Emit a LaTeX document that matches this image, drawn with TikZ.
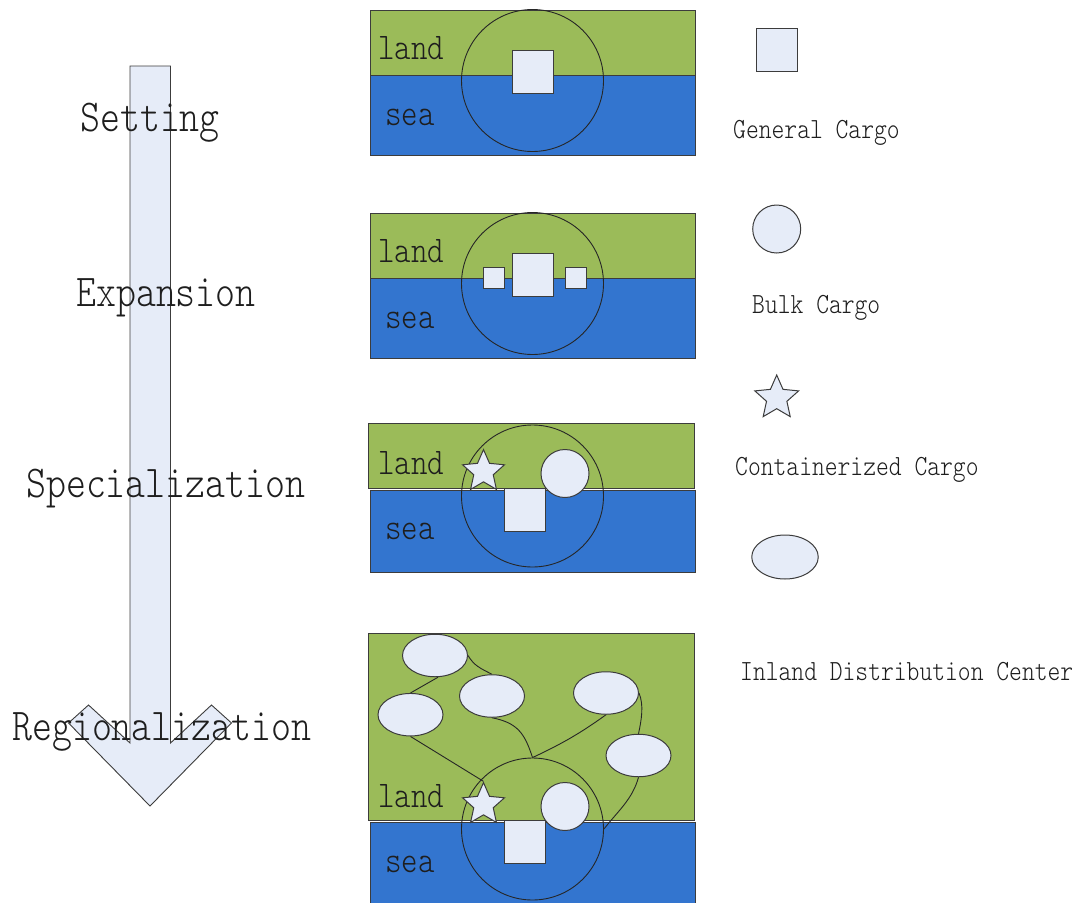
\documentclass[tikz,border=0pt]{standalone}
\usepackage{graphicx}
\usetikzlibrary{shapes.geometric}
\definecolor{landc}{HTML}{9BBB59}
\definecolor{seac}{HTML}{3375CF}
\definecolor{cargo}{HTML}{E6ECF8}
\definecolor{edgec}{HTML}{3C3C3C}
\definecolor{inkc}{HTML}{1E1E1E}
\newcommand{\tallt}[1]{\scalebox{1}[1.2]{#1}}
\pgfdeclarelayer{bglayer}
\pgfdeclarelayer{midlayer}
\pgfsetlayers{bglayer,midlayer,main}
\begin{document}
\begin{tikzpicture}[x=1pt,y=-1pt,
  landbox/.style={draw=edgec, line width=1pt, fill=landc},
  seabox/.style={draw=edgec, line width=1pt, fill=seac},
  portcircle/.style={circle, draw=black!85, line width=0.9pt, minimum size=142pt, inner sep=0pt},
  item/.style={draw=edgec, fill=cargo, line width=1pt, inner sep=0pt},
  gsq/.style={item, rectangle, minimum width=41pt, minimum height=43pt},
  ssq/.style={item, rectangle, minimum size=21pt},
  bulk/.style={item, circle, minimum size=48pt},
  cstar/.style={item, star, star points=5, star point ratio=2.15, minimum size=44pt},
  idc/.style={item, ellipse, minimum width=65pt, minimum height=42.5pt},
  link/.style={draw=black!85, line width=0.9pt},
  arrowshape/.style={draw=edgec, line width=0.9pt, fill=cargo},
  stage/.style={anchor=base west, inner sep=0pt, text=inkc, font=\ttfamily\fontseries{l}\fontsize{38}{40}\selectfont},
  area/.style={anchor=base west, inner sep=0pt, text=inkc, font=\ttfamily\fontseries{l}\fontsize{31.4}{33}\selectfont},
  legend/.style={anchor=base west, inner sep=0pt, text=inkc, font=\ttfamily\fontseries{l}\fontsize{24.4}{26}\selectfont}
]
\useasboundingbox (0,0) rectangle (1084,902);

% ---------- panels ----------
\begin{pgfonlayer}{bglayer}
\fill[white] (0,0) rectangle (1084,902);
\draw[landbox] (370,10) rectangle (695,75);
\draw[seabox] (370,75) rectangle (695,155.5);
\draw[landbox] (370,213) rectangle (695,278);
\draw[seabox] (370,278) rectangle (695,358.5);
\draw[landbox] (368,423) rectangle (694,488.3);
\draw[seabox] (370,490) rectangle (695,572);
\draw[landbox] (368,633) rectangle (694,820);
\draw[seabox] (370,822) rectangle (695,906);
% big arrow
\draw[arrowshape] (130,66) -- (130,743) -- (88.5,705) -- (68.5,723) -- (150,806)
  -- (231.5,723) -- (211.5,705) -- (170.5,743) -- (170.5,66) -- cycle;
\end{pgfonlayer}

% ---------- port circles ----------
\begin{pgfonlayer}{midlayer}
\node[portcircle] (c1) at (532.5,80.5) {};
\node[portcircle] (c2) at (532.5,283.5) {};
\node[portcircle] (c3) at (532.5,496) {};
\node[portcircle] (c4) at (532.5,829) {};
\end{pgfonlayer}

% ---------- stage labels ----------
\node[stage] (tset) at (80,131) {\tallt{Setting}};
\node[stage] (texp) at (76,306) {\tallt{Expansion}};
\node[stage] (tspe) at (26,497) {\tallt{Specialization}};
\node[stage] (treg) at (12,740) {\tallt{Regionalization}};

% ---------- land / sea labels ----------
\node[area] (land1) at (378,59.5) {\tallt{land}};
\node[area] (sea1) at (385,125.5) {\tallt{sea}};
\node[area] (land2) at (378,262.5) {\tallt{land}};
\node[area] (sea2) at (385,328.5) {\tallt{sea}};
\node[area] (land3) at (378,474) {\tallt{land}};
\node[area] (sea3) at (385,539.5) {\tallt{sea}};
\node[area] (land4) at (378,807) {\tallt{land}};
\node[area] (sea4) at (385,872) {\tallt{sea}};

% ---------- panel 1 ----------
\node[gsq] (g1) at (532.5,71.5) {};
% ---------- panel 2 ----------
\node[gsq] (g2) at (532.5,274.5) {};
\node[ssq] (s2a) at (494,277.5) {};
\node[ssq] (s2b) at (575.5,277.5) {};
% ---------- panel 3 ----------
\node[gsq] (g3) at (524.5,510) {};
\node[bulk] (b3) at (565,473.5) {};
\node[cstar] (k3) at (483.5,471.6) {};
% ---------- panel 4 ----------
\node[idc] (e1) at (435,655.5) {};
\node[idc] (e2) at (492,696) {};
\node[idc] (e3) at (410.5,714.7) {};
\node[idc] (e4) at (606,693) {};
\node[idc] (e5) at (638.5,755.5) {};
\node[gsq] (g4) at (524.5,842) {};
\node[bulk] (b4) at (565,806.5) {};
\node[cstar] (k4) at (483.5,804.6) {};

\begin{pgfonlayer}{midlayer}
\draw[link] (e1.east) .. controls +(6,10) and +(-12,-6) .. (e2.north);
\draw[link] ([xshift=3pt]e1.south) -- (e3.north);
\draw[link] (e3.south) -- (k4.north);
\draw[link] (e2.south) .. controls +(25,5) and +(-8,-25) .. (c4.north);
\draw[link] (e4.south) .. controls +(-25,18) and +(30,-14) .. (c4.north);
\draw[link] (e4.east) .. controls +(5,12) and +(3,-14) .. (e5.north);
\draw[link] (e5.south) .. controls +(-6,22) and +(14,-18) .. (c4.east);
\end{pgfonlayer}

% ---------- legend ----------
\node[gsq] (lg) at (776.5,50) {};
\node[legend] (tlg) at (733,138) {\tallt{General Cargo}};
\node[bulk] (lb) at (776.7,229) {};
\node[legend] (tlb) at (752,313) {\tallt{Bulk Cargo}};
\node[cstar, minimum size=46pt] (lk) at (776.7,398) {};
\node[legend] (tlk) at (735,475) {\tallt{Containerized Cargo}};
\node[idc, minimum width=66.5pt, minimum height=44pt] (le) at (785,557) {};
\node[legend] (tle) at (740,680) {\tallt{Inland Distribution Center}};
\end{tikzpicture}
\end{document}
